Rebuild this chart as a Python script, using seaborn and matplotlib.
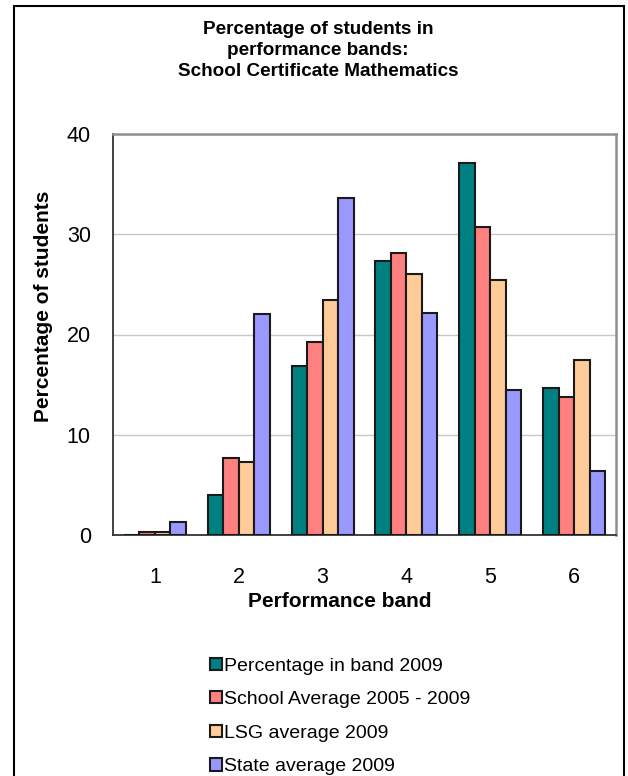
import pandas as pd
import matplotlib.pyplot as plt
import seaborn as sns
from matplotlib.patches import Rectangle

# -----------------------------------
# Data
# -----------------------------------

bands = ['1', '2', '3', '4', '5', '6']

series_names = [
    'Percentage in band 2009',
    'School Average 2005 - 2009',
    'LSG average 2009',
    'State average 2009'
]

band_2009 = [0.0, 4.0, 16.9, 27.3, 37.1, 14.7]
school_avg = [0.3, 7.7, 19.3, 28.1, 30.7, 13.8]
lsg_avg = [0.3, 7.3, 23.4, 26.0, 25.4, 17.5]
state_avg = [1.3, 22.0, 33.6, 22.1, 14.5, 6.4]

colors = ['#008080', '#FF8080', '#FFCC99', '#9999FF']

rows = []
for name, values in zip(series_names, [band_2009, school_avg, lsg_avg, state_avg]):
    for band, v in zip(bands, values):
        rows.append({'band': band, 'value': v, 'series': name})
df = pd.DataFrame(rows)

# -----------------------------------
# Plot
# -----------------------------------

sns.set_style('white')
plt.rcParams['font.family'] = ['Liberation Sans', 'DejaVu Sans']
plt.rcParams['text.color'] = 'black'
plt.rcParams['axes.labelcolor'] = 'black'
plt.rcParams['xtick.color'] = 'black'
plt.rcParams['ytick.color'] = 'black'

fig = plt.figure(figsize=(6.28, 7.76), dpi=100)
ax = fig.add_axes([113 / 628, 1 - 535 / 776, 503 / 628, 401 / 776])

sns.barplot(
    data=df, x='band', y='value', hue='series',
    palette=colors, saturation=1, edgecolor='#1a1a1a', linewidth=1.5,
    width=0.74, ax=ax, legend=True, zorder=3
)

ax.set_ylim(0, 40)
ax.set_xlim(-0.5, 5.5)
ax.set_yticks([0, 10, 20, 30, 40])
ax.yaxis.grid(True, color='#c8c8c8', linewidth=1.0, zorder=0)
ax.set_axisbelow(True)

for side in ['left', 'bottom']:
    ax.spines[side].set_color('#333333')
    ax.spines[side].set_linewidth(1.3)
for side in ['top', 'right']:
    ax.spines[side].set_visible(True)
    ax.spines[side].set_color('#909090')
    ax.spines[side].set_linewidth(1.8)

ax.tick_params(axis='y', length=5, width=1, color='#333333', direction='out',
               pad=11, labelsize=15.5)
ax.tick_params(axis='x', which='major', length=0, pad=23, labelsize=15.5)
ax.set_xticks([i - 0.5 for i in range(7)], minor=True)
ax.tick_params(axis='x', which='minor', length=5, width=1, color='#333333',
               direction='out')

ax.set_xlabel('Performance band', fontsize=15, fontweight='bold')
ax.xaxis.set_label_coords(0.451, -0.142)
ax.set_ylabel('Percentage of students', fontsize=15, fontweight='bold')
ax.yaxis.set_label_coords(-0.12, 0.57)

fig.text(0.506, 1 - 21 / 776,
         'Percentage of students in\nperformance bands:\nSchool Certificate Mathematics',
         ha='center', va='top', fontsize=13.6, fontweight='bold', linespacing=1.3)

handles, labels = ax.get_legend_handles_labels()
ax.get_legend().remove()
fig.legend(handles, labels, loc='upper left',
           bbox_to_anchor=(192 / 628, 1 - 640 / 776),
           frameon=False, fontsize=14, handlelength=0.62, handleheight=0.6,
           handletextpad=0.1, labelspacing=0.85)

# outer frame
fig.patches.append(Rectangle((14 / 628, -0.02), 610 / 628, 1.02 - 6 / 776,
                             transform=fig.transFigure, fill=False,
                             edgecolor='black', linewidth=1.5))

plt.savefig('out.png', dpi=100)
plt.close()
